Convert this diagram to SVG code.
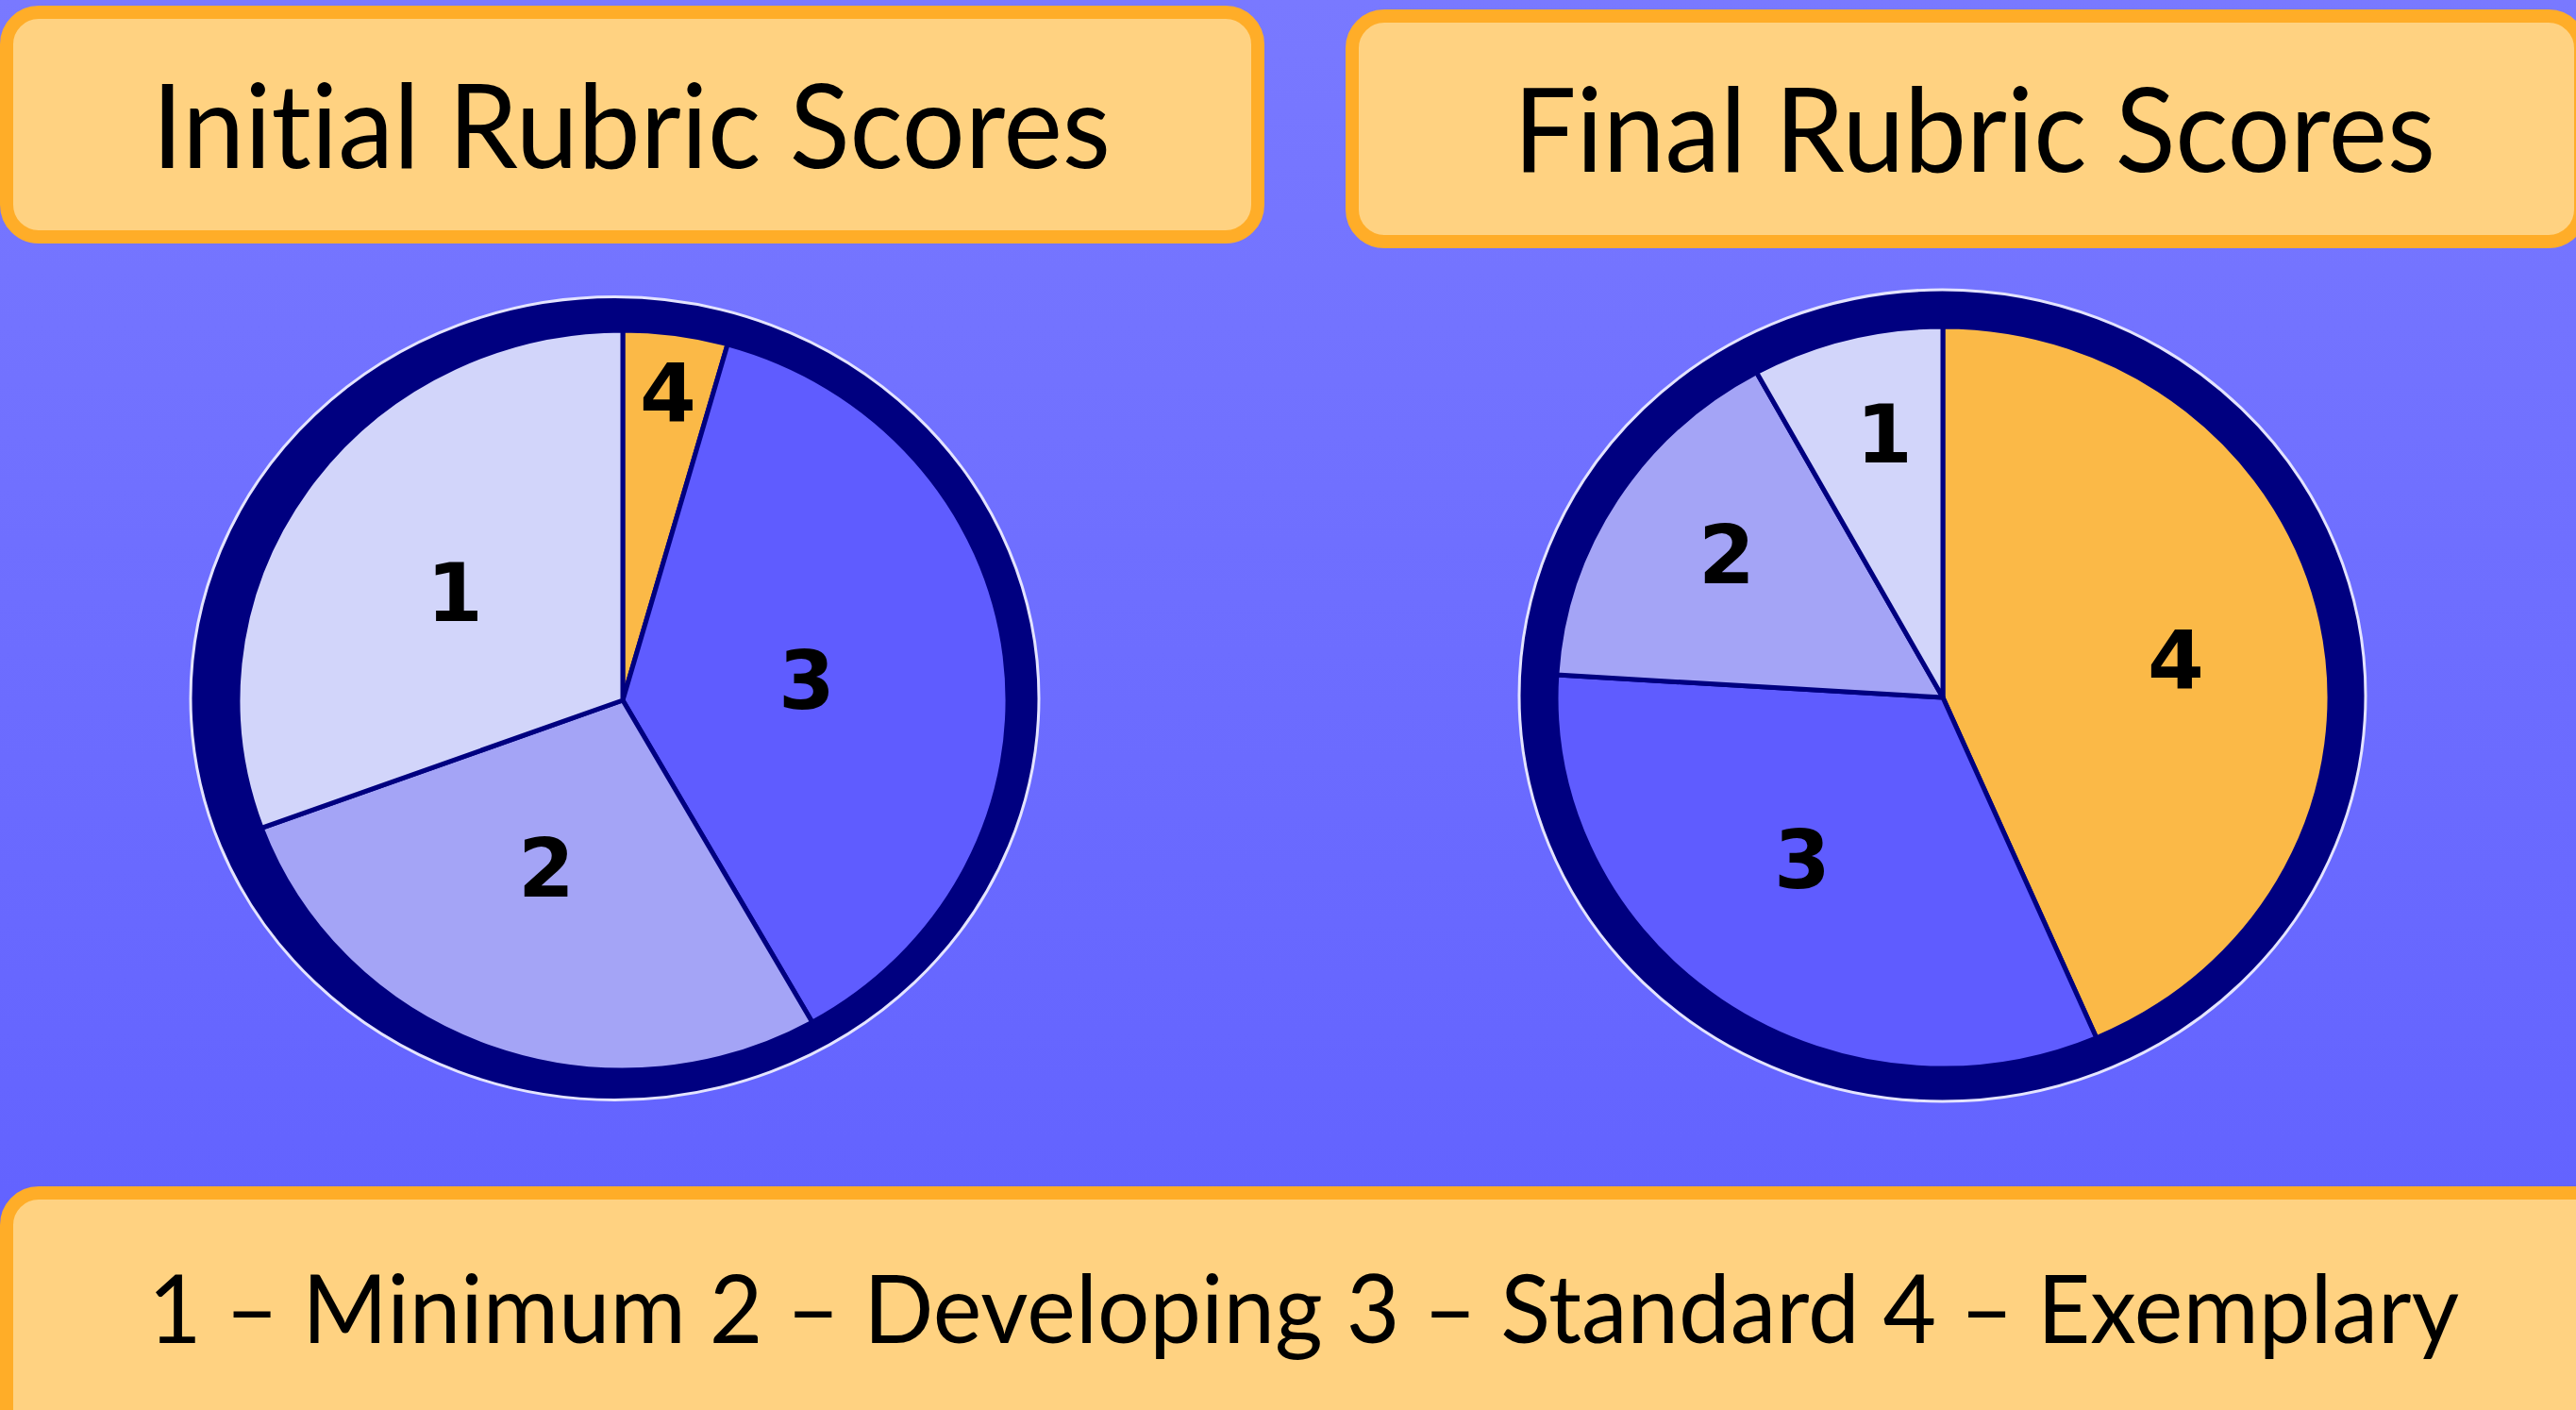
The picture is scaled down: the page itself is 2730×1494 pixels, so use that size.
<svg xmlns="http://www.w3.org/2000/svg" width="2730" height="1494" viewBox="0 0 2730 1494">
<defs>
<linearGradient id="bg" x1="0" y1="0" x2="0" y2="1">
<stop offset="0" stop-color="#7979FF"/>
<stop offset="1" stop-color="#5F5FFF"/>
</linearGradient>
<style>
.box{fill:#FFD281;stroke:#FFAD28;stroke-width:14}
.title{font-family:Lato,"Liberation Sans",sans-serif;font-size:124px;fill:#000;font-variant-ligatures:none}
.legend{font-family:Lato,"Liberation Sans",sans-serif;font-size:100px;fill:#000;font-variant-ligatures:none}
.ring{fill:#000080;stroke:#E4E4FF;stroke-width:3}
.sl{stroke:#000080;stroke-width:5;stroke-linejoin:round}
.s1{fill:#D2D5FA}.s2{fill:#A4A4F6}.s3{fill:#5F5CFF}.s4{fill:#FBB947}
.lbl{font-family:"DejaVu Sans",sans-serif;font-weight:bold;font-size:86px;fill:#000;text-anchor:middle}
</style>
</defs>
<rect x="0" y="0" width="2730" height="1494" fill="url(#bg)"/>

<g id="title-initial">
<rect class="box" x="7" y="13" width="1326" height="238" rx="34"/>
<text class="title" x="161" y="178" textLength="1016" lengthAdjust="spacingAndGlyphs">Initial Rubric Scores</text>
</g>

<g id="title-final">
<rect class="box" x="1433" y="17" width="1302" height="239" rx="34"/>
<text class="title" x="1604" y="182" textLength="977" lengthAdjust="spacingAndGlyphs">Final Rubric Scores</text>
</g>

<g id="pie-initial">
<ellipse class="ring" cx="651.5" cy="740" rx="449.5" ry="425.5"/>
<path class="sl s4" d="M660,742 L660,350 A408,392 0 0 1 771.1,364.8 Z"/>
<path class="sl s3" d="M660,742 L771.1,364.8 A408,392 0 0 1 860.9,1083.2 Z"/>
<path class="sl s2" d="M660,742 L860.9,1083.2 A408,392 0 0 1 277.1,877.4 Z"/>
<path class="sl s1" d="M660,742 L277.1,877.4 A408,392 0 0 1 660,350 Z"/>
<text class="lbl" x="708" y="446">4</text>
<text class="lbl" x="482" y="658">1</text>
<text class="lbl" x="855" y="751">3</text>
<text class="lbl" x="579" y="950">2</text>
</g>

<g id="pie-final">
<ellipse class="ring" cx="2058.5" cy="737" rx="448.5" ry="430"/>
<path class="sl s4" d="M2059,739 L2059,346 A410,393 0 0 1 2221.8,1099.7 Z"/>
<path class="sl s3" d="M2059,739 L2221.8,1099.7 A410,393 0 0 1 1649.8,715 Z"/>
<path class="sl s2" d="M2059,739 L1649.8,715 A410,393 0 0 1 1861.5,394.6 Z"/>
<path class="sl s1" d="M2059,739 L1861.5,394.6 A410,393 0 0 1 2059,346 Z"/>
<text class="lbl" x="1997" y="490">1</text>
<text class="lbl" x="1830" y="618">2</text>
<text class="lbl" x="2306" y="729">4</text>
<text class="lbl" x="1910" y="941">3</text>
</g>

<g id="legend">
<rect class="box" x="7" y="1264" width="2760" height="270" rx="34"/>
<text class="legend" x="157" y="1423" textLength="2449" lengthAdjust="spacingAndGlyphs">1 – Minimum 2 – Developing 3 – Standard 4 – Exemplary</text>
</g>

<g id="connectors"/>
</svg>
